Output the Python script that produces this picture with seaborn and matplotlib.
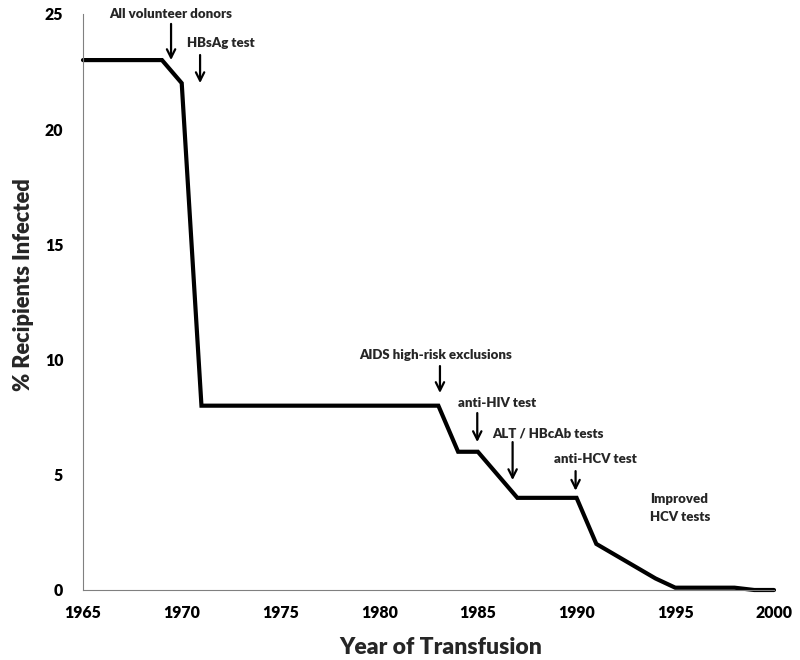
import matplotlib
matplotlib.use("Agg")
import matplotlib.pyplot as plt
import seaborn as sns
import pandas as pd

years = [1965, 1969, 1970, 1971, 1983, 1984, 1985, 1987, 1990, 1991, 1994, 1995, 1998, 1999, 2000]
infected = [23, 23, 22, 8, 8, 6, 6, 4, 4, 2, 0.5, 0.1, 0.1, 0, 0]

events = ["All volunteer donors", "HBsAg test", "AIDS high-risk exclusions",
          "anti-HIV test", "ALT / HBcAb tests", "anti-HCV test"]
event_years = [1969.46, 1970.93, 1983.08, 1984.97, 1986.76, 1989.95]
event_tips = [23.0, 22.0, 8.55, 6.42, 4.77, 4.31]
event_tails = [24.57, 23.22, 9.72, 7.68, 6.42, 5.16]
event_text_x = [1969.43, 1971.99, 1982.88, 1986.0, 1988.55, 1990.98]
event_text_y = [24.83, 23.57, 10.03, 7.94, 6.6, 5.51]

note_lines = ["Improved", "HCV tests"]
note_x = 1993.72
note_y = [3.78, 3.0]

df = pd.DataFrame({"year": years, "pct": infected})

sns.set_theme(style="white")
FONT = ['Lato', 'DejaVu Sans']
plt.rcParams['font.family'] = FONT
W = 800

fig = plt.figure(figsize=(8, 6.6), dpi=100)
ax = fig.add_axes([83 / 800, 70 / 660, 691 / 800, 576 / 660])
renderer = fig.canvas.get_renderer()


def fit(t, target, dim="w"):
    for _ in range(2):
        bb = t.get_window_extent(renderer)
        cur = bb.width if dim == "w" else bb.height
        t.set_fontsize(t.get_fontsize() * target / cur)


sns.lineplot(data=df, x="year", y="pct", color="black", linewidth=3.0, ax=ax)
for ln in ax.lines:
    ln.set_clip_on(False)
    ln.set_solid_joinstyle("miter")

ax.set_xlim(1965, 2000)
ax.set_ylim(0, 25)
ax.set_xticks(range(1965, 2001, 5))
ax.set_xticks(range(1965, 2001, 1), minor=True)
ax.set_yticks(range(0, 26, 5))

probe = fig.text(0, 0, "1965", fontsize=10, fontweight=W)
fit(probe, 37)
tick_fs = probe.get_fontsize()
probe.remove()

ax.tick_params(axis="both", which="both", direction="in", length=4, width=0.8,
               colors="#808080", labelcolor="black", labelsize=tick_fs)
ax.tick_params(axis="y", which="major", pad=14.2)
ax.tick_params(axis="x", which="major", pad=11.0)
for lab in ax.get_xticklabels() + ax.get_yticklabels():
    lab.set_fontweight(W)

for s in ["top", "right"]:
    ax.spines[s].set_visible(False)
for s in ["left", "bottom"]:
    ax.spines[s].set_color("#808080")
    ax.spines[s].set_linewidth(0.8)

ax.set_xlabel("Year of Transfusion", fontsize=16, fontweight=W)
ax.set_ylabel("% Recipients Infected", fontsize=16, fontweight=W)
fit(ax.xaxis.label, 202, "w")
fit(ax.yaxis.label, 212, "h")
ax.xaxis.label.set_verticalalignment("baseline")
ax.xaxis.set_label_coords(0.518, -0.111)
ax.yaxis.label.set_verticalalignment("center")
ax.yaxis.set_label_coords(-0.0854, 0.531)

texts = []
for name, ex, tip, tail, tx, ty in zip(events, event_years, event_tips, event_tails,
                                         event_text_x, event_text_y):
    ax.annotate("", xy=(ex, tip), xytext=(ex, tail),
                arrowprops=dict(arrowstyle="->", color="black", lw=1.6, mutation_scale=15,
                                shrinkA=0, shrinkB=0))
    texts.append(ax.text(tx, ty, name, ha="center", va="baseline", fontsize=10,
                         fontweight=W))
for line, ny in zip(note_lines, note_y):
    texts.append(ax.text(note_x, ny, line, ha="left", va="baseline", fontsize=10,
                         fontweight=W))

fit(texts[2], 152, "w")
ann_fs = texts[2].get_fontsize()
for t in texts:
    t.set_fontsize(ann_fs)

fig.savefig("out.png", dpi=100)
